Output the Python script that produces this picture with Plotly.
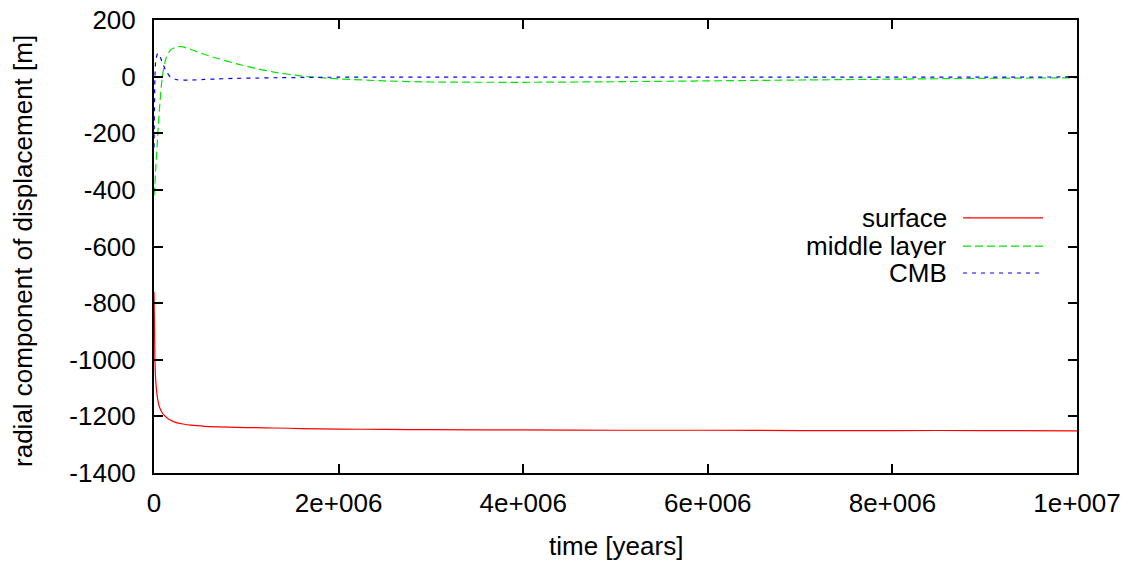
import plotly.graph_objects as go

# time in years
time_years = [0, 10000, 20000, 40000, 60000, 90000, 130000, 180000, 250000, 300000,
              400000, 550000, 700000, 900000, 1100000, 1300000, 1600000, 2000000,
              2500000, 3000000, 4000000, 5000000, 6000000, 7000000, 8000000,
              9000000, 10000000]

surface = [-760, -1000, -1080, -1140, -1168, -1188, -1202, -1214, -1223, -1226,
           -1231, -1235, -1237, -1239, -1240, -1241, -1243, -1245,
           -1246, -1247, -1248, -1249, -1249, -1250, -1250, -1250, -1251]

middle_layer = [-420, -380, -320, -210, -110, 0, 65, 95, 105, 106,
                96, 78, 63, 45, 29, 16, 2, -8,
                -15, -19, -20, -18, -15, -12, -9, -6, -4]

cmb = [-250, 0, 60, 82, 75, 50, 20, -2, -11, -12,
       -12, -10, -8, -6, -5, -4, -3, -2,
       -2, -2, -2, -2, -2, -2, -2, -2, -1]

series_names = ["surface", "middle layer", "CMB"]
series_colors = ["#ff0000", "#00e600", "#0000ff"]
series_dash = ["solid", "8px,4px", "4px,5px"]

x_ticks = [0, 2e6, 4e6, 6e6, 8e6, 1e7]
x_ticktext = ["0", "2e+006", "4e+006", "6e+006", "8e+006", "1e+007"]
y_ticks = [200, 0, -200, -400, -600, -800, -1000, -1200, -1400]
y_ticktext = ["200", "0", "-200", "-400", "-600", "-800", "-1000", "-1200", "-1400"]

x_title = "time [years]"
y_title = "radial component of displacement [m]"

FONT = "Liberation Sans, Arial, sans-serif"
FS = 26

fig = go.Figure()
for name, vals, col, dash in zip(series_names, [surface, middle_layer, cmb],
                                 series_colors, series_dash):
    fig.add_trace(go.Scatter(x=time_years, y=vals, mode="lines", name=name,
                             line=dict(color=col, width=1.2, dash=dash, shape="spline",
                                       smoothing=0.6),
                             showlegend=False, hoverinfo="skip"))

axis_common = dict(showline=True, linecolor="black", linewidth=2, mirror="allticks",
                   ticks="inside", ticklen=9, tickwidth=2, tickcolor="black",
                   showgrid=False, zeroline=False, ticklabeloverflow="allow",
                   automargin=False,
                   tickfont=dict(family=FONT, size=FS, color="black"))

fig.update_xaxes(range=[0, 1e7], tickvals=x_ticks, ticktext=x_ticktext,
                 ticklabelstandoff=6, **axis_common)
fig.update_yaxes(range=[-1400, 200], tickvals=y_ticks, ticktext=y_ticktext,
                 ticklabelstandoff=11, **axis_common)

# axis titles placed like gnuplot's
fig.add_annotation(x=0.5, y=-0.161, xref="paper", yref="paper", text=x_title,
                   showarrow=False, xanchor="center", yanchor="middle",
                   font=dict(family=FONT, size=FS, color="black"))
fig.add_annotation(x=-0.142, y=0.49, xref="paper", yref="paper", text=y_title,
                   showarrow=False, xanchor="center", yanchor="middle", textangle=-90,
                   font=dict(family=FONT, size=FS, color="black"))

# gnuplot-style legend: text right-aligned, key sample to the right
legend_rows_y = [0.563, 0.501, 0.4415]
for name, col, dash, yy in zip(series_names, series_colors, series_dash, legend_rows_y):
    fig.add_annotation(x=0.860, y=yy, xref="paper", yref="paper", text=name,
                       showarrow=False, xanchor="right", yanchor="middle",
                       height=24, valign="middle", borderpad=0,
                       font=dict(family=FONT, size=FS, color="black"))
    fig.add_shape(type="line", xref="paper", yref="paper", x0=0.8765, x1=0.9632,
                  y0=yy, y1=yy, line=dict(color=col, width=1.2, dash=dash))

fig.update_layout(width=1146, height=561, plot_bgcolor="white", paper_bgcolor="white",
                  margin=dict(l=154, r=69, t=20, b=88, autoexpand=False))

# remove the default page margin so the figure fills the window exactly
fig.write_html("out.html", config={"displayModeBar": False},
               post_script="document.body.style.margin='0';document.body.style.overflow='hidden';")
